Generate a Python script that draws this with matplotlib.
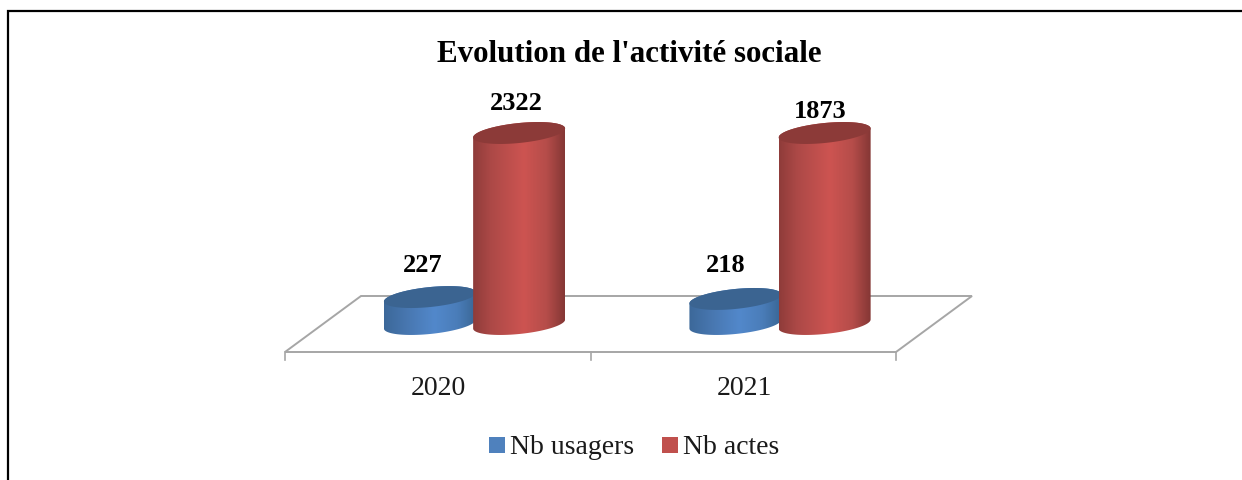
import numpy as np
import matplotlib
matplotlib.use("Agg")
import matplotlib.pyplot as plt
from matplotlib.colors import LinearSegmentedColormap
from matplotlib.patches import Polygon, Rectangle
from matplotlib.lines import Line2D

plt.rcParams['font.family'] = ['Liberation Serif', 'DejaVu Serif']

years    = ["2020", "2021"]
usagers  = [227, 218]
actes    = [2322, 1873]
series   = ["Nb usagers", "Nb actes"]
title    = "Evolution de l'activité sociale"
y_min    = 100      # the original value axis is cut, big bars hit the top
y_max    = 1000

W, H = 1242, 480

blue_side = [(0, '#3c6899'), (0.25, '#4877b0'), (0.55, '#5288cb'), (0.8, '#4a7db9'), (1, '#3a6796')]
red_side  = [(0, '#8f3c3a'), (0.2, '#ad4947'), (0.55, '#cd5451'), (0.8, '#b64d4a'), (1, '#853735')]
blue_top  = '#3b6491'
red_top   = '#8c3a38'

# pixel sizes of the fake 3D
half_w, ell_b, ell_s = 46, 10, 4.5     # ellipse half width, half height, shear
depth_x, depth_y = 38, 28              # half depth of the floor


fig = plt.figure(figsize=(W/100, H/100), dpi=100)
fig.patch.set_facecolor('white')

# outer border
fig.add_artist(Rectangle((7.5/W, -5/H), 1300/W, (469+5)/H, transform=fig.transFigure,
                         fill=False, ec='black', lw=1.6))

# axes = middle plane of the floor, y_min at the floor centre
x0, x1 = 323, 934
y_bot, y_top = 324, 133
ax = fig.add_axes([x0/W, 1-y_bot/H, (x1-x0)/W, (y_bot-y_top)/H])
ax.set_xlim(-0.5, 1.5)
ax.set_ylim(y_min, y_max)
ax.axis('off')

px_x = 2.0/(x1-x0)
px_y = (y_max-y_min)/(y_bot-y_top)

# floor
fx = [-0.5-depth_x*px_x, 1.5-depth_x*px_x, 1.5+depth_x*px_x, -0.5+depth_x*px_x]
fy = [y_min-depth_y*px_y, y_min-depth_y*px_y, y_min+depth_y*px_y, y_min+depth_y*px_y]
ax.add_patch(Polygon(list(zip(fx, fy)), closed=True, fc='white', ec='#a6a6a6', lw=1.4,
                     clip_on=False, zorder=1))

# ticks + category labels
front_y = y_min-depth_y*px_y
for t in [-0.5, 0.5, 1.5]:
    ax.plot([t-depth_x*px_x]*2, [front_y, front_y-8*px_y], color='#a6a6a6', lw=1.2,
            clip_on=False, zorder=1)
for i, yr in enumerate(years):
    ax.text(i-depth_x*px_x+1*px_x, front_y-36*px_y, yr, ha='center', va='center', fontsize=20,
            color='#1a1a1a', clip_on=False)


def cylinder(xc, val, side, top, z):
    v = min(val, y_max)
    t = np.linspace(0, 2*np.pi, 120)
    dx = half_w*px_x
    ex = np.cos(t)*dx
    ey = (ell_b*np.sin(t)+ell_s*np.cos(t))*px_y

    # body outline: lower half of base ellipse + upper edge
    k = np.linspace(0, np.pi, 80)
    lo_x = xc-np.cos(k)*dx
    lo_y = y_min+(-ell_b*np.sin(k)-ell_s*np.cos(k))*px_y
    up_x = xc+np.cos(k)*dx
    up_y = v+(ell_b*np.sin(k)+ell_s*np.cos(k))*px_y
    body = Polygon(np.column_stack([np.r_[lo_x, up_x], np.r_[lo_y, up_y]]), closed=True,
                   fc='none', ec='none', transform=ax.transData, zorder=z)
    ax.add_patch(body)
    cmap = LinearSegmentedColormap.from_list("c", side)
    im = ax.imshow(np.linspace(0, 1, 200)[None, :], cmap=cmap, aspect='auto',
                   extent=[xc-dx, xc+dx, y_min-30*px_y, v+30*px_y], zorder=z,
                   interpolation='bilinear')
    im.set_clip_path(body)
    im.set_clip_box(fig.bbox)   # otherwise the axes box cuts the round ends
    ax.fill(xc+ex, v+ey, color=top, lw=0, zorder=z+0.5, clip_on=False)


bar_off = [-0.15, 0.142]
label_dy = [[32, 33], [29, 21]]   # pixels above the bar top
label_dx = [[-7, -10], [-3, -4]]
for i in range(2):
    cylinder(i+bar_off[0], usagers[i], blue_side, blue_top, 3)
    cylinder(i+bar_off[1], actes[i], red_side, red_top, 4)
    ax.annotate(str(usagers[i]), (i+bar_off[0], min(usagers[i], y_max)),
                xytext=(label_dx[0][i], label_dy[0][i]), textcoords='offset pixels',
                ha='center', va='center', fontsize=19, fontweight='bold', zorder=6,
                annotation_clip=False)
    ax.annotate(str(actes[i]), (i+bar_off[1], min(actes[i], y_max)),
                xytext=(label_dx[1][i], label_dy[1][i]), textcoords='offset pixels',
                ha='center', va='center', fontsize=19, fontweight='bold', zorder=6,
                annotation_clip=False)

ax.set_xlim(-0.5, 1.5)
ax.set_ylim(y_min, y_max)

fig.text(629/W, 1-54/H, title, ha='center', va='center', fontsize=22.3, fontweight='bold')

handles = [Line2D([], [], ls='none', marker='s', ms=11, color='#4f81bd', mew=0),
           Line2D([], [], ls='none', marker='s', ms=11, color='#c0504d', mew=0)]
fig.legend(handles, series, loc='center', bbox_to_anchor=(634/W, 1-447.5/H), ncol=2, frameon=False,
           fontsize=20, handlelength=0.6, handletextpad=0.15, columnspacing=1.0, labelcolor='#1a1a1a')

fig.savefig("out.png", dpi=100)
